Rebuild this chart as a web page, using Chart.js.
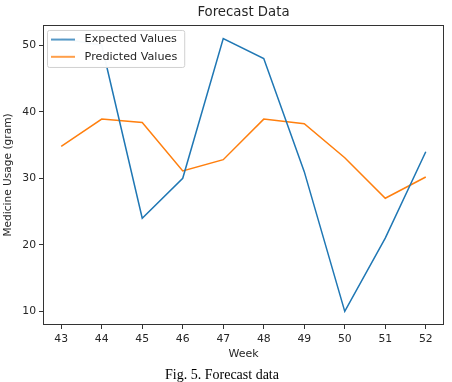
<!DOCTYPE html>
<html>
<head>
<meta charset="utf-8">
<script src="https://cdn.jsdelivr.net/npm/chart.js@4.4.1/dist/chart.umd.min.js"></script>
<style>
  html, body { margin: 0; padding: 0; background: #fff; }
  #wrap { width: 452px; height: 382px; position: relative; }
</style>
</head>
<body>
<div id="wrap"><canvas id="c" width="452" height="382"></canvas></div>
<script>
const weeks = [43, 44, 45, 46, 47, 48, 49, 50, 51, 52];
const expectedValues = [51, 50, 24, 30, 51, 48, 31, 10, 21, 34];
const predictedValues = [34.8, 38.9, 38.4, 31.1, 32.8, 38.9, 38.2, 33.1, 27.0, 30.2];
const yTicks = [10, 20, 30, 40, 50];
const titleText = 'Forecast Data';
const xTitle = 'Week';
const yTitle = 'Medicine Usage (gram)';
const captionText = 'Fig. 5. Forecast data';

const FONT = "'DejaVu Sans', sans-serif";
const TXT = '#262626';

function legendHandle(color) {
  const c = document.createElement('canvas');
  c.width = 28; c.height = 4;
  const g = c.getContext('2d');
  g.strokeStyle = color;
  g.lineWidth = 1.5;
  g.beginPath();
  g.moveTo(0, 2); g.lineTo(24, 2);
  g.stroke();
  return c;
}

const framePlugin = {
  id: 'frame',
  beforeUpdate(chart) {
    const lg = chart.legend;
    if (lg && !lg._patched) {
      lg._patched = true;
      lg._layers = function () {
        return [{
          z: 1,
          draw(area) {
            const ctx = chart.ctx;
            const a = chart.chartArea;
            const cw = (lg.columnSizes && lg.columnSizes[0]) ? lg.columnSizes[0].width : 120;
            const ch = (lg.columnSizes && lg.columnSizes[0]) ? lg.columnSizes[0].height : 34;
            lg.left = a.left + 2;
            lg.top = a.top + 3;
            lg.width = cw + 20;
            lg.height = ch + 20;
            lg.right = lg.left + lg.width;
            lg.bottom = lg.top + lg.height;
            const x = a.left + 4, y = a.top + 5;
            const right = lg.left + 6 + cw + 7;
            const w = right - x, h = 37;
            ctx.save();
            ctx.fillStyle = 'rgba(255,255,255,0.96)';
            ctx.strokeStyle = '#d0d0d0';
            ctx.lineWidth = 1;
            ctx.beginPath();
            if (ctx.roundRect) ctx.roundRect(x + 0.5, y + 0.5, w, h, 2); else ctx.rect(x + 0.5, y + 0.5, w, h);
            ctx.fill();
            ctx.stroke();
            ctx.restore();
            lg.draw(area);
          }
        }];
      };
    }
  },
  afterDatasetsDraw(chart) {
    const {ctx, chartArea: a} = chart;
    ctx.save();
    ctx.strokeStyle = '#333';
    ctx.lineWidth = 1;
    ctx.strokeRect(Math.round(a.left) + 0.5, Math.round(a.top) + 0.5,
                   Math.round(a.right - a.left) - 1, Math.round(a.bottom - a.top) - 1);
    ctx.restore();
  }
};

const mk = (arr) => weeks.map((w, i) => ({x: w, y: arr[i]}));

new Chart(document.getElementById('c'), {
  type: 'line',
  data: {
    datasets: [
      { label: 'Expected Values', data: mk(expectedValues), borderColor: '#1f77b4', backgroundColor: '#1f77b4',
        borderWidth: 1.5, pointRadius: 0, pointStyle: legendHandle('#1f77b4'), tension: 0, fill: false },
      { label: 'Predicted Values', data: mk(predictedValues), borderColor: '#ff7f0e', backgroundColor: '#ff7f0e',
        borderWidth: 1.5, pointRadius: 0, pointStyle: legendHandle('#ff7f0e'), tension: 0, fill: false }
    ]
  },
  options: {
    responsive: false,
    animation: false,
    devicePixelRatio: 1,
    layout: { padding: { left: 0, right: 8, top: 0, bottom: 0 } },
    plugins: {
      tooltip: { enabled: false },
      title: {
        display: true, text: titleText, fullSize: false, color: TXT,
        font: { family: FONT, size: 13.3, weight: 'normal', lineHeight: 1.2 },
        padding: { top: 5, bottom: 4 }
      },
      subtitle: {
        display: true, text: captionText, position: 'bottom', fullSize: true, color: '#000',
        font: { family: "'Liberation Serif', 'Times New Roman', serif", size: 14, weight: 'normal', lineHeight: 1 },
        padding: { top: 0, bottom: 0 }
      },
      legend: {
        position: 'chartArea', align: 'start', padding: 8,
        labels: {
          usePointStyle: true, pointStyleWidth: 28,
          color: TXT, padding: 6,
          font: { family: FONT, size: 11.2 }
        }
      }
    },
    scales: {
      x: {
        type: 'linear', min: 42.55, max: 52.45,
        afterBuildTicks: (s) => { s.ticks = weeks.map(v => ({value: v})); },
        afterFit: (s) => { s.height = 43; },
        grid: { drawOnChartArea: false, drawTicks: true, tickLength: 4, color: '#333' },
        border: { display: false },
        ticks: { color: TXT, padding: 3.5, maxRotation: 0, autoSkip: false, font: { family: FONT, size: 10.8 },
                 callback: (v) => String(v) },
        title: { display: true, text: xTitle, color: TXT, font: { family: FONT, size: 11 }, padding: { top: 0, bottom: 7.5 } }
      },
      y: {
        type: 'linear', min: 7.95, max: 53.05,
        afterBuildTicks: (s) => { s.ticks = yTicks.map(v => ({value: v})); },
        afterFit: (s) => { s.width = 43; },
        grid: { drawOnChartArea: false, drawTicks: true, tickLength: 4, color: '#333' },
        border: { display: false },
        ticks: { color: TXT, padding: 3, font: { family: FONT, size: 10.8 }, callback: (v) => String(v) },
        title: { display: true, text: yTitle, color: TXT, font: { family: FONT, size: 10.6 }, padding: { top: 2, bottom: 0 } }
      }
    }
  },
  plugins: [framePlugin]
});
</script>
</body>
</html>
